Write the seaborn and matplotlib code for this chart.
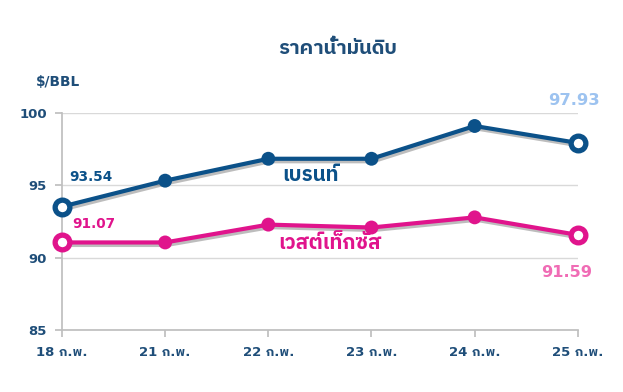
import matplotlib
matplotlib.use("Agg")
import matplotlib.pyplot as plt
import matplotlib.patheffects as pe
from matplotlib import font_manager
from matplotlib.ft2font import FT2Font
import seaborn as sns
import pandas as pd

dates = ["18 ก.พ.", "21 ก.พ.", "22 ก.พ.", "23 ก.พ.", "24 ก.พ.", "25 ก.พ."]
brent = [93.54, 95.33, 96.84, 96.84, 99.10, 97.93]
wti = [91.07, 91.07, 92.30, 92.10, 92.80, 91.59]
series_names = ["เบรนท์", "เวสต์เท็กซัส"]
title = "ราคาน้ำมันดิบ"
unit = "$/BBL"

# find a font with Thai glyphs
thai_font = None
for f in font_manager.fontManager.ttflist:
    try:
        cm = FT2Font(f.fname).get_charmap()
        if 0x0E01 in cm and 0x0E32 in cm:
            thai_font = f.name
            if "Sans" in f.name or "Thai" in f.name:
                break
    except Exception:
        pass

sns.set_theme(style="white")
THAI = [thai_font, "DejaVu Sans"] if thai_font else ["DejaVu Sans"]
MIX = ["DejaVu Sans", thai_font] if thai_font else ["DejaVu Sans"]
plt.rcParams["font.family"] = MIX

BLUE = "#0B5189"
PINK = "#E0148C"
TXT = "#1F4E79"

df = pd.DataFrame({
    "date": dates * 2,
    "idx": list(range(len(dates))) * 2,
    "price": brent + wti,
    "series": [series_names[0]] * len(dates) + [series_names[1]] * len(dates),
})

fig = plt.figure(figsize=(6.23, 3.92), dpi=100)
ax = fig.add_axes([0.0995, 0.1569, 0.828, 0.555])

shadow = [pe.SimpleLineShadow(offset=(1.2, -1.8), alpha=0.35, shadow_color="#444444"), pe.Normal()]

sns.lineplot(data=df, x="idx", y="price", hue="series", palette=[BLUE, PINK],
             marker="o", markersize=10, markeredgewidth=0, linewidth=3.0,
             legend=False, ax=ax)
for ln in ax.lines:
    ln.set_path_effects(shadow)
    ln.set_clip_on(False)

ends = df[df["idx"].isin([0, len(dates) - 1])]
for name, col in zip(series_names, [BLUE, PINK]):
    sub = ends[ends["series"] == name]
    sns.scatterplot(data=sub, x="idx", y="price", s=112, color="white",
                    edgecolor=col, linewidth=3.8, ax=ax, clip_on=False, zorder=5,
                    legend=False)

ax.set_xlim(0, len(dates) - 1)
ax.set_ylim(85, 100)
ax.set_yticks([85, 90, 95, 100])
ax.set_xticks(range(len(dates)))
ax.set_xticklabels(dates)
ax.set_xlabel("")
ax.set_ylabel("")
ax.yaxis.grid(True, color="#D9D9D9", linewidth=1)
ax.set_axisbelow(True)
for s in ["top", "right"]:
    ax.spines[s].set_visible(False)
ax.spines["left"].set_color("#BFBFBF")
ax.spines["bottom"].set_color("#BFBFBF")
ax.tick_params(axis="x", bottom=True, length=5, color="#BFBFBF", pad=6,
               labelsize=9.5, labelcolor=TXT)
ax.tick_params(axis="y", left=True, length=5, color="#BFBFBF", pad=6,
               labelsize=9.5, labelcolor=TXT)
for lab in ax.get_xticklabels() + ax.get_yticklabels():
    lab.set_fontweight("bold")

fig.text(0.5425, 0.875, title, ha="center", va="center", fontsize=14.5,
         fontweight="bold", color=TXT, family=THAI)
fig.text(0.0923, 0.791, unit, ha="center", va="center", fontsize=9.8,
         fontweight="bold", color=TXT)

ax.text(0.07, 95.6, f"{brent[0]:.2f}", fontsize=9.8, fontweight="bold",
        color=BLUE, ha="left", va="center")
ax.text(0.10, 92.34, f"{wti[0]:.2f}", fontsize=9.8, fontweight="bold",
        color=PINK, ha="left", va="center")
ax.text(4.96, 100.83, f"{brent[-1]:.2f}", fontsize=11.8, fontweight="bold",
        color="#9DC3F0", ha="center", va="center", clip_on=False)
ax.text(4.89, 88.97, f"{wti[-1]:.2f}", fontsize=11.6, fontweight="bold",
        color="#F06CB5", ha="center", va="center", clip_on=False)
ax.text(2.41, 95.72, series_names[0], fontsize=14.8, fontweight="bold",
        color=BLUE, ha="center", va="center", family=THAI)
ax.text(2.60, 90.97, series_names[1], fontsize=14.8, fontweight="bold",
        color=PINK, ha="center", va="center", family=THAI)

fig.savefig("out.png", dpi=100)
